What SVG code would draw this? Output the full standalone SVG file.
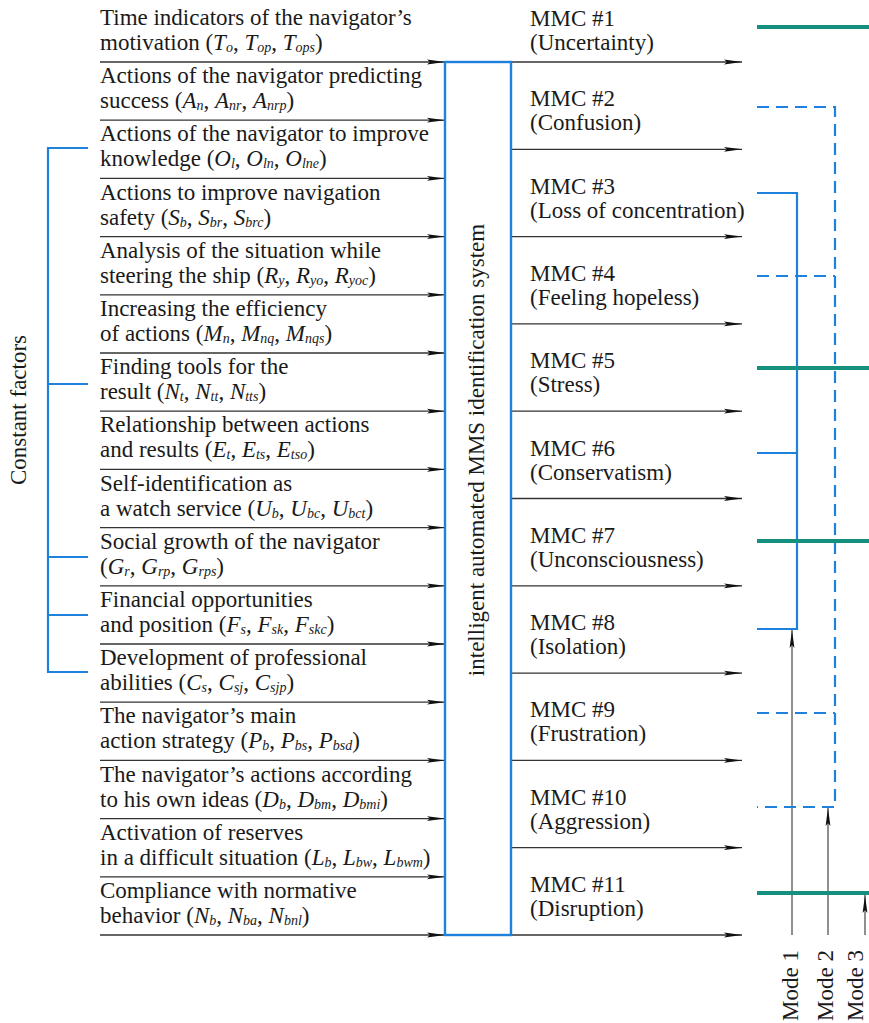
<svg xmlns="http://www.w3.org/2000/svg" width="869" height="1023" viewBox="0 0 869 1023">
<style>
text{font-family:"Liberation Serif","Tinos","Times New Roman","Noto Serif","DejaVu Serif",serif;font-size:23px;fill:#1a1a1a}
.v{font-style:italic}
.s{font-style:italic;font-size:14px}
.ln{stroke:#333;stroke-width:1.3;fill:none}
.bl{stroke:#1e82dc;stroke-width:2.2;fill:none}
.bd{stroke:#1e82dc;stroke-width:2.2;fill:none;stroke-dasharray:12 7}
.gr{stroke:#14907f;stroke-width:4;fill:none}
</style>
<defs>
<marker id="ar" markerUnits="userSpaceOnUse" markerWidth="18" markerHeight="6" refX="18" refY="3" orient="auto">
<path d="M0,0.6 L18,3 L0,5.4 L3,3 Z" fill="#111"/>
</marker>
</defs>
<rect width="869" height="1023" fill="#fff"/>

<g id="connectors">
<g class="ln">
<line x1="100" y1="62" x2="445" y2="62" marker-end="url(#ar)"/>
<line x1="100" y1="120.2" x2="445" y2="120.2" marker-end="url(#ar)"/>
<line x1="100" y1="178.4" x2="445" y2="178.4" marker-end="url(#ar)"/>
<line x1="100" y1="236.6" x2="445" y2="236.6" marker-end="url(#ar)"/>
<line x1="100" y1="294.8" x2="445" y2="294.8" marker-end="url(#ar)"/>
<line x1="100" y1="353" x2="445" y2="353" marker-end="url(#ar)"/>
<line x1="100" y1="411.2" x2="445" y2="411.2" marker-end="url(#ar)"/>
<line x1="100" y1="469.4" x2="445" y2="469.4" marker-end="url(#ar)"/>
<line x1="100" y1="527.6" x2="445" y2="527.6" marker-end="url(#ar)"/>
<line x1="100" y1="585.8" x2="445" y2="585.8" marker-end="url(#ar)"/>
<line x1="100" y1="644" x2="445" y2="644" marker-end="url(#ar)"/>
<line x1="100" y1="702.2" x2="445" y2="702.2" marker-end="url(#ar)"/>
<line x1="100" y1="760.4" x2="445" y2="760.4" marker-end="url(#ar)"/>
<line x1="100" y1="818.6" x2="445" y2="818.6" marker-end="url(#ar)"/>
<line x1="100" y1="876.8" x2="445" y2="876.8" marker-end="url(#ar)"/>
<line x1="100" y1="935" x2="445" y2="935" marker-end="url(#ar)"/>

<line x1="511" y1="62" x2="742" y2="62" marker-end="url(#ar)"/>
<line x1="511" y1="149.3" x2="742" y2="149.3" marker-end="url(#ar)"/>
<line x1="511" y1="236.6" x2="742" y2="236.6" marker-end="url(#ar)"/>
<line x1="511" y1="323.9" x2="742" y2="323.9" marker-end="url(#ar)"/>
<line x1="511" y1="411.2" x2="742" y2="411.2" marker-end="url(#ar)"/>
<line x1="511" y1="498.5" x2="742" y2="498.5" marker-end="url(#ar)"/>
<line x1="511" y1="585.8" x2="742" y2="585.8" marker-end="url(#ar)"/>
<line x1="511" y1="673.1" x2="742" y2="673.1" marker-end="url(#ar)"/>
<line x1="511" y1="760.4" x2="742" y2="760.4" marker-end="url(#ar)"/>
<line x1="511" y1="847.7" x2="742" y2="847.7" marker-end="url(#ar)"/>
<line x1="511" y1="935" x2="742" y2="935" marker-end="url(#ar)"/>
</g>

<g id="mode-lines" class="ln" style="stroke-width:1.1">
<line x1="792" y1="935" x2="792" y2="630" marker-end="url(#ar)"/>
<line x1="828" y1="935" x2="828" y2="808" marker-end="url(#ar)"/>
<line x1="865" y1="935" x2="865" y2="895" marker-end="url(#ar)"/>
</g>

<g id="bracket" class="bl">
<path d="M88,148 H48 V672 H88"/>
<path d="M48,384 H88 M48,557 H88 M48,615 H88"/>
</g>

<g id="mode1-links" class="bl">
<path d="M757,193 H797 V629 H757"/>
<path d="M757,453 H797"/>
</g>
<g id="mode2-links" class="bd">
<path d="M757,107 H835 V807 H757"/>
<path d="M757,276 H835 M757,713 H835"/>
</g>
<g id="mode3-links" class="gr">
<path d="M757,27 H869 M757,368 H869 M757,541 H869 M757,893 H869"/>
</g>
</g>

<g id="inputs">
<g id="in1"><text x="100" y="25">Time indicators of the navigator’s</text><text x="100" y="50">motivation (<tspan class="v">T</tspan><tspan class="s" dy="2">o</tspan><tspan dy="-2">, </tspan><tspan class="v">T</tspan><tspan class="s" dy="2">op</tspan><tspan dy="-2">, </tspan><tspan class="v">T</tspan><tspan class="s" dy="2">ops</tspan><tspan dy="-2">)</tspan></text></g>
<g id="in2"><text x="100" y="83.2">Actions of the navigator predicting</text><text x="100" y="108.2">success (<tspan class="v">A</tspan><tspan class="s" dy="2">n</tspan><tspan dy="-2">, </tspan><tspan class="v">A</tspan><tspan class="s" dy="2">nr</tspan><tspan dy="-2">, </tspan><tspan class="v">A</tspan><tspan class="s" dy="2">nrp</tspan><tspan dy="-2">)</tspan></text></g>
<g id="in3"><text x="100" y="141.4">Actions of the navigator to improve</text><text x="100" y="166.4">knowledge (<tspan class="v">O</tspan><tspan class="s" dy="2">l</tspan><tspan dy="-2">, </tspan><tspan class="v">O</tspan><tspan class="s" dy="2">ln</tspan><tspan dy="-2">, </tspan><tspan class="v">O</tspan><tspan class="s" dy="2">lne</tspan><tspan dy="-2">)</tspan></text></g>
<g id="in4"><text x="100" y="199.6">Actions to improve navigation</text><text x="100" y="224.6">safety (<tspan class="v">S</tspan><tspan class="s" dy="2">b</tspan><tspan dy="-2">, </tspan><tspan class="v">S</tspan><tspan class="s" dy="2">br</tspan><tspan dy="-2">, </tspan><tspan class="v">S</tspan><tspan class="s" dy="2">brc</tspan><tspan dy="-2">)</tspan></text></g>
<g id="in5"><text x="100" y="257.8">Analysis of the situation while</text><text x="100" y="282.8">steering the ship (<tspan class="v">R</tspan><tspan class="s" dy="2">y</tspan><tspan dy="-2">, </tspan><tspan class="v">R</tspan><tspan class="s" dy="2">yo</tspan><tspan dy="-2">, </tspan><tspan class="v">R</tspan><tspan class="s" dy="2">yoc</tspan><tspan dy="-2">)</tspan></text></g>
<g id="in6"><text x="100" y="316">Increasing the efficiency</text><text x="100" y="341">of actions (<tspan class="v">M</tspan><tspan class="s" dy="2">n</tspan><tspan dy="-2">, </tspan><tspan class="v">M</tspan><tspan class="s" dy="2">nq</tspan><tspan dy="-2">, </tspan><tspan class="v">M</tspan><tspan class="s" dy="2">nqs</tspan><tspan dy="-2">)</tspan></text></g>
<g id="in7"><text x="100" y="374.2">Finding tools for the</text><text x="100" y="399.2">result (<tspan class="v">N</tspan><tspan class="s" dy="2">t</tspan><tspan dy="-2">, </tspan><tspan class="v">N</tspan><tspan class="s" dy="2">tt</tspan><tspan dy="-2">, </tspan><tspan class="v">N</tspan><tspan class="s" dy="2">tts</tspan><tspan dy="-2">)</tspan></text></g>
<g id="in8"><text x="100" y="432.4">Relationship between actions</text><text x="100" y="457.4">and results (<tspan class="v">E</tspan><tspan class="s" dy="2">t</tspan><tspan dy="-2">, </tspan><tspan class="v">E</tspan><tspan class="s" dy="2">ts</tspan><tspan dy="-2">, </tspan><tspan class="v">E</tspan><tspan class="s" dy="2">tso</tspan><tspan dy="-2">)</tspan></text></g>
<g id="in9"><text x="100" y="490.6">Self-identification as</text><text x="100" y="515.6">a watch service (<tspan class="v">U</tspan><tspan class="s" dy="2">b</tspan><tspan dy="-2">, </tspan><tspan class="v">U</tspan><tspan class="s" dy="2">bc</tspan><tspan dy="-2">, </tspan><tspan class="v">U</tspan><tspan class="s" dy="2">bct</tspan><tspan dy="-2">)</tspan></text></g>
<g id="in10"><text x="100" y="548.8">Social growth of the navigator</text><text x="100" y="573.8">(<tspan class="v">G</tspan><tspan class="s" dy="2">r</tspan><tspan dy="-2">, </tspan><tspan class="v">G</tspan><tspan class="s" dy="2">rp</tspan><tspan dy="-2">, </tspan><tspan class="v">G</tspan><tspan class="s" dy="2">rps</tspan><tspan dy="-2">)</tspan></text></g>
<g id="in11"><text x="100" y="607">Financial opportunities</text><text x="100" y="632">and position (<tspan class="v">F</tspan><tspan class="s" dy="2">s</tspan><tspan dy="-2">, </tspan><tspan class="v">F</tspan><tspan class="s" dy="2">sk</tspan><tspan dy="-2">, </tspan><tspan class="v">F</tspan><tspan class="s" dy="2">skc</tspan><tspan dy="-2">)</tspan></text></g>
<g id="in12"><text x="100" y="665.2">Development of professional</text><text x="100" y="690.2">abilities (<tspan class="v">C</tspan><tspan class="s" dy="2">s</tspan><tspan dy="-2">, </tspan><tspan class="v">C</tspan><tspan class="s" dy="2">sj</tspan><tspan dy="-2">, </tspan><tspan class="v">C</tspan><tspan class="s" dy="2">sjp</tspan><tspan dy="-2">)</tspan></text></g>
<g id="in13"><text x="100" y="723.4">The navigator’s main</text><text x="100" y="748.4">action strategy (<tspan class="v">P</tspan><tspan class="s" dy="2">b</tspan><tspan dy="-2">, </tspan><tspan class="v">P</tspan><tspan class="s" dy="2">bs</tspan><tspan dy="-2">, </tspan><tspan class="v">P</tspan><tspan class="s" dy="2">bsd</tspan><tspan dy="-2">)</tspan></text></g>
<g id="in14"><text x="100" y="781.6">The navigator’s actions according</text><text x="100" y="806.6">to his own ideas (<tspan class="v">D</tspan><tspan class="s" dy="2">b</tspan><tspan dy="-2">, </tspan><tspan class="v">D</tspan><tspan class="s" dy="2">bm</tspan><tspan dy="-2">, </tspan><tspan class="v">D</tspan><tspan class="s" dy="2">bmi</tspan><tspan dy="-2">)</tspan></text></g>
<g id="in15"><text x="100" y="839.8">Activation of reserves</text><text x="100" y="864.8">in a difficult situation (<tspan class="v">L</tspan><tspan class="s" dy="2">b</tspan><tspan dy="-2">, </tspan><tspan class="v">L</tspan><tspan class="s" dy="2">bw</tspan><tspan dy="-2">, </tspan><tspan class="v">L</tspan><tspan class="s" dy="2">bwm</tspan><tspan dy="-2">)</tspan></text></g>
<g id="in16"><text x="100" y="898">Compliance with normative</text><text x="100" y="923">behavior (<tspan class="v">N</tspan><tspan class="s" dy="2">b</tspan><tspan dy="-2">, </tspan><tspan class="v">N</tspan><tspan class="s" dy="2">ba</tspan><tspan dy="-2">, </tspan><tspan class="v">N</tspan><tspan class="s" dy="2">bnl</tspan><tspan dy="-2">)</tspan></text></g>
</g>

<g id="constant-factors">
<text transform="translate(26,410) rotate(-90)" text-anchor="middle">Constant factors</text>
</g>

<g id="mms-system">
<rect x="445" y="62" width="66" height="873" fill="#fff" stroke="#1e82dc" stroke-width="2.4"/>
<text transform="translate(484,450) rotate(-90)" text-anchor="middle">intelligent automated MMS identification system</text>
</g>

<g id="outputs">
<g id="mmc1"><text x="530" y="26">MMC #1</text><text x="530" y="50">(Uncertainty)</text></g>
<g id="mmc2"><text x="530" y="106.3">MMC #2</text><text x="530" y="130.3">(Confusion)</text></g>
<g id="mmc3"><text x="530" y="193.6">MMC #3</text><text x="530" y="217.6">(Loss of concentration)</text></g>
<g id="mmc4"><text x="530" y="280.9">MMC #4</text><text x="530" y="304.9">(Feeling hopeless)</text></g>
<g id="mmc5"><text x="530" y="368.2">MMC #5</text><text x="530" y="392.2">(Stress)</text></g>
<g id="mmc6"><text x="530" y="455.5">MMC #6</text><text x="530" y="479.5">(Conservatism)</text></g>
<g id="mmc7"><text x="530" y="542.8">MMC #7</text><text x="530" y="566.8">(Unconsciousness)</text></g>
<g id="mmc8"><text x="530" y="630.1">MMC #8</text><text x="530" y="654.1">(Isolation)</text></g>
<g id="mmc9"><text x="530" y="717.4">MMC #9</text><text x="530" y="741.4">(Frustration)</text></g>
<g id="mmc10"><text x="530" y="804.7">MMC #10</text><text x="530" y="828.7">(Aggression)</text></g>
<g id="mmc11"><text x="530" y="892">MMC #11</text><text x="530" y="916">(Disruption)</text></g>
</g>

<g id="modes">
<g id="mode1"><text transform="translate(798,1021) rotate(-90)">Mode 1</text></g>
<g id="mode2"><text transform="translate(833,1021) rotate(-90)">Mode 2</text></g>
<g id="mode3"><text transform="translate(863,1021) rotate(-90)">Mode 3</text></g>
</g>
</svg>
